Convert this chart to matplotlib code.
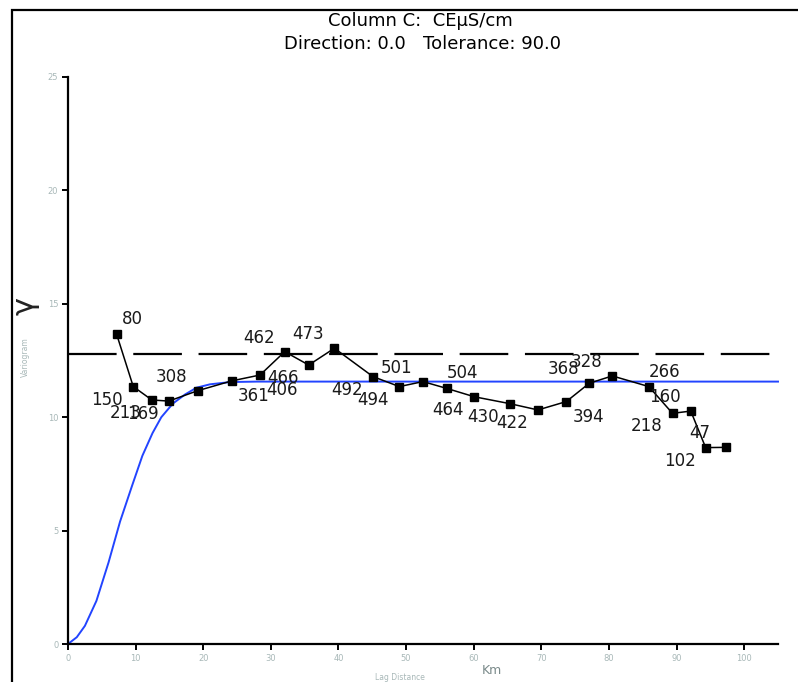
import matplotlib
matplotlib.use("Agg")
import matplotlib.pyplot as plt
from matplotlib.patches import Rectangle

# ---- data ----
lag = [7.2, 9.65, 12.4, 14.9, 19.2, 24.2, 28.4, 32.05, 35.6, 39.4, 45.1, 49.0, 52.5,
       56.0, 60.1, 65.3, 69.5, 73.7, 77.1, 80.5, 85.9, 89.4, 92.1, 94.3, 97.3]
gamma = [13.65, 11.35, 10.76, 10.71, 11.17, 11.6, 11.86, 12.89, 12.3, 13.04, 11.79, 11.35, 11.57,
         11.27, 10.9, 10.6, 10.32, 10.69, 11.5, 11.82, 11.35, 10.17, 10.27, 8.66, 8.67]
pairs = [80, 150, 213, 169, 308, 361, 406, 462, 466, 473, 492, 494, 501,
         504, 464, 430, 422, 394, 368, 328, 266, 218, 160, 102, 47]

model_x = [0, 1.3, 2.5, 4.2, 6.0, 7.7, 9.5, 11.0, 12.5, 13.8, 15.5, 17.3, 19.0, 21.0, 24.0, 28.0, 105.0]
model_y = [0, 0.3, 0.8, 1.9, 3.6, 5.4, 7.0, 8.3, 9.3, 10.0, 10.6, 11.0, 11.3, 11.45, 11.55, 11.57, 11.57]

variance = 12.77
xticks = [0, 10, 20, 30, 40, 50, 60, 70, 80, 90, 100]
yticks = [0, 5, 10, 15, 20, 25]

title1 = "Column C:  CEµS/cm"
title2 = "Direction: 0.0   Tolerance: 90.0"

# label placement (quadrant) per point
quad = ["NE", "SW", "SW", "SW", "NW", "SE", "SE", "NW", "SW", "NW", "SW", "SW", "NW",
        "NE", "SW", "SW", "SW", "SE", "NW", "NW", "NE", "SW", "NW", "SW", "NW"]
qoff = {"NE": (16, 15), "NW": (-26, 14), "SW": (-26, -13), "SE": (22, -15)}

plt.rcParams['lines.scale_dashes'] = False

W, H = 798, 682
fig = plt.figure(figsize=(W / 100, H / 100), dpi=100)

def fx(px):
    return px / W

def fy(py):
    return 1 - py / H

# outer frame
fig.patches.append(Rectangle((fx(12), fy(690)), fx(800) - fx(12), fy(10) - fy(690),
                             transform=fig.transFigure, fill=False, lw=1.6, ec='black'))

ax = fig.add_axes([fx(68), fy(644), fx(778) - fx(68), fy(77) - fy(644)])
ax.set_xlim(0, 105)
ax.set_ylim(0, 25)
for s in ['top', 'right']:
    ax.spines[s].set_visible(False)
for s in ['left', 'bottom']:
    ax.spines[s].set_linewidth(1.6)
ax.set_xticks(xticks)
ax.set_yticks(yticks)
ax.tick_params(direction='out', length=4, width=1.4, labelsize=6, labelcolor='#a8b8b8', pad=3)

ax.plot([0, 105], [variance, variance], color='black', lw=1.6, dashes=(35, 12), clip_on=False)
ax.plot(model_x, model_y, color='#2244ff', lw=1.4, clip_on=False)
ax.plot(lag, gamma, color='black', lw=1.1, marker='s', markersize=6, clip_on=False)

for x, y, n, q in zip(lag, gamma, pairs, quad):
    ax.annotate(str(n), (x, y), xytext=qoff[q], textcoords='offset pixels',
                ha='center', va='center', fontsize=12, color='#1a1a1a', family='DejaVu Sans')

fig.text(fx(420), fy(21), title1, ha='center', va='center', fontsize=13, family='DejaVu Sans')
fig.text(fx(422), fy(44), title2, ha='center', va='center', fontsize=13, family='DejaVu Sans')

fig.text(fx(25), fy(357), "Variogram", rotation=90, ha='center', va='center', fontsize=5.5, color='#a8b8b8')
fig.text(fx(25), fy(306), "γ", rotation=90, ha='center', va='center', fontsize=22, color='#222222')
fig.text(fx(400), fy(678), "Lag Distance", ha='center', va='center', fontsize=5.5, color='#a8b8b8')
fig.text(fx(492), fy(671), "Km", ha='center', va='center', fontsize=9, color='#7a8a8a')

fig.savefig("out.png", dpi=100)
